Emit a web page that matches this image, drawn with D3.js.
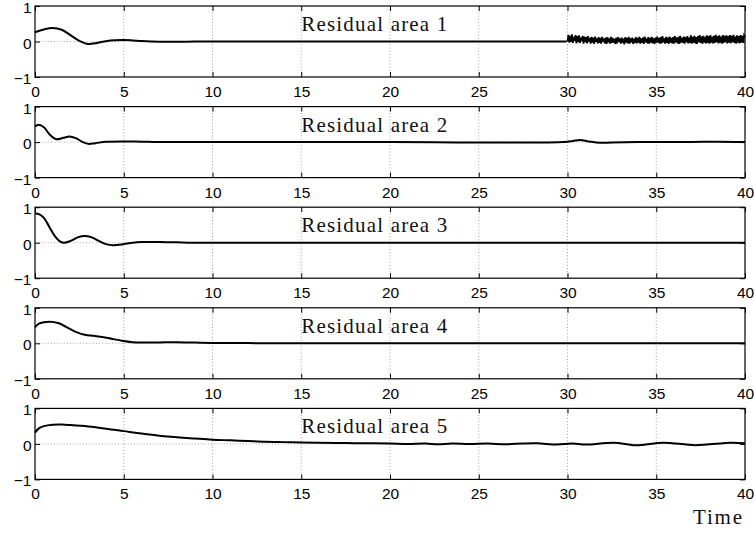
<!DOCTYPE html>
<html>
<head>
<meta charset="utf-8">
<script src="https://cdn.jsdelivr.net/npm/d3@7"></script>
<style>
  body { margin: 0; background: #fff; }
  svg { display: block; }
</style>
</head>
<body>
<script>
// chart data
const xTicks = [0, 5, 10, 15, 20, 25, 30, 35, 40];
const yTicks = [-1, 0, 1];
const panelTitles = ['Residual area 1', 'Residual area 2', 'Residual area 3', 'Residual area 4', 'Residual area 5'];
const xLabel = 'Time';

// [time, residual]
const res1 = [[0, 0.26], [0.5, 0.34], [1.0, 0.38], [1.5, 0.33], [2.0, 0.18], [2.5, 0.02], [3.0, -0.07],
  [3.5, -0.04], [4.0, 0.01], [4.5, 0.035], [5.0, 0.04], [5.5, 0.03], [6, 0.015], [7, -0.005], [8, -0.01],
  [9, 0], [10, 0], [15, 0], [20, 0], [25, 0], [29.95, 0]];
// area 1 after t = 30: dense oscillation, one sample every 0.05
const res1NoiseStart = 30;
const res1NoiseStep = 0.05;
const res1Noise = [0.00,
  0.19, -0.03, 0.16, -0.01, 0.20, -0.04, 0.13, 0.02, 0.18, -0.05,
  0.15, -0.02, 0.17, -0.04, 0.11, 0.01, 0.16, -0.06, 0.14, -0.02,
  0.12, -0.05, 0.15, 0.00, 0.10, -0.06, 0.13, -0.03, 0.11, -0.07,
  0.14, -0.01, 0.09, -0.05, 0.12, -0.04, 0.10, -0.06, 0.13, 0.00,
  0.08, -0.05, 0.11, -0.07, 0.12, -0.02, 0.09, -0.06, 0.13, -0.04,
  0.10, -0.03, 0.07, -0.07, 0.11, -0.05, 0.12, -0.01, 0.09, -0.06,
  0.11, -0.04, 0.08, -0.08, 0.12, -0.03, 0.10, -0.05, 0.13, -0.06,
  0.09, -0.02, 0.11, -0.07, 0.07, -0.04, 0.12, -0.05, 0.10, -0.03,
  0.13, -0.06, 0.09, -0.04, 0.11, -0.07, 0.14, -0.02, 0.08, -0.05,
  0.12, -0.06, 0.10, -0.03, 0.13, -0.05, 0.09, -0.07, 0.11, -0.04,
  0.14, -0.03, 0.10, -0.06, 0.12, -0.05, 0.15, -0.02, 0.09, -0.06,
  0.13, -0.04, 0.11, -0.07, 0.14, -0.03, 0.10, -0.05, 0.12, -0.06,
  0.15, -0.02, 0.11, -0.05, 0.13, -0.07, 0.16, -0.03, 0.10, -0.04,
  0.14, -0.06, 0.12, -0.02, 0.15, -0.05, 0.11, -0.04, 0.17, -0.06,
  0.13, -0.03, 0.16, -0.05, 0.12, -0.07, 0.15, -0.02, 0.18, -0.04,
  0.14, -0.06, 0.16, -0.03, 0.13, -0.05, 0.17, -0.04, 0.15, -0.06,
  0.18, -0.03, 0.14, -0.05, 0.16, -0.04, 0.19, -0.02, 0.15, -0.05,
  0.17, -0.03, 0.14, -0.06, 0.18, -0.04, 0.16, -0.02, 0.17, -0.05,
  0.15, -0.03, 0.18, -0.05, 0.16, -0.02, 0.19, -0.04, 0.14, -0.06,
  0.17, -0.03, 0.15, -0.05, 0.18, -0.02, 0.16, -0.04, 0.17, 0.12];
const res2 = [[0, 0.44], [0.2, 0.49], [0.5, 0.42], [0.85, 0.2], [1.2, 0.08], [1.6, 0.12], [1.95, 0.16],
  [2.3, 0.11], [2.7, 0.0], [3.0, -0.05], [3.4, -0.03], [4, 0.01], [5, 0.02], [6, 0.01], [7, 0], [10, 0],
  [20, 0], [29.8, 0], [30.3, 0.03], [30.7, 0.06], [31.2, 0.02], [31.8, -0.02], [32.5, -0.01], [34, 0],
  [37, 0.005], [38.5, 0.01], [40, 0]];
const res3 = [[0, 0.82], [0.25, 0.8], [0.5, 0.7], [0.8, 0.45], [1.1, 0.2], [1.4, 0.04], [1.65, 0.0],
  [2.0, 0.05], [2.4, 0.15], [2.8, 0.19], [3.2, 0.15], [3.6, 0.05], [4.0, -0.04], [4.4, -0.07], [4.9, -0.05],
  [5.5, 0.0], [6, 0.02], [7, 0.02], [8, 0.01], [9, 0], [20, 0], [30, 0], [40, 0]];
const res4 = [[0, 0.45], [0.25, 0.56], [0.85, 0.61], [1.3, 0.57], [1.8, 0.45], [2.3, 0.32], [2.8, 0.24],
  [3.3, 0.21], [3.8, 0.18], [4.3, 0.13], [4.9, 0.07], [5.5, 0.03], [6, 0.02], [7, 0.025], [8, 0.03],
  [9, 0.02], [10, 0.01], [12, 0.005], [15, 0], [25, 0], [40, 0]];
const res5 = [[0, 0.32], [0.2, 0.43], [0.5, 0.5], [1.0, 0.54], [1.5, 0.545], [2, 0.53], [3, 0.49],
  [4, 0.43], [5, 0.36], [6, 0.29], [7, 0.23], [8, 0.19], [9, 0.15], [10, 0.12], [11, 0.1], [12, 0.08],
  [13, 0.06], [14, 0.05], [15, 0.04], [16, 0.03], [17, 0.025], [18, 0.02], [19, 0.015], [20, 0.01],
  [21, 0.0], [22, 0.01], [22.7, -0.01], [23.5, 0.01], [24.5, -0.005], [25.5, 0.01], [26.5, -0.01],
  [27.5, 0.01], [28.3, 0.015], [29.4, -0.015], [30.3, 0.01], [31.0, -0.02], [32.6, 0.035], [33.9, -0.035],
  [35.4, 0.035], [37.2, -0.035], [39.2, 0.035], [40, 0.02]];
const residuals = [res1, res2, res3, res4, res5];

// layout
const width = 754;
const height = 538;
const left = 35;
const right = 745;
const firstTop = 6;
const panelStep = 100.6;
const panelHeight = 71;

const svg = d3.select('body').append('svg')
  .attr('width', width)
  .attr('height', height);

const xscale = d3.scaleLinear().domain([0, 40]).range([left, right]);

residuals.forEach((res, i) => {
  const top = firstTop + (i * panelStep);
  const yscale = d3.scaleLinear().domain([-1, 1]).range([top + panelHeight, top]);
  const g = svg.append('g').attr('class', `panel panel${i + 1}`);

  // dotted grid
  g.selectAll('.vgrid').data(xTicks.slice(1, -1)).enter().append('line')
    .attr('class', 'vgrid')
    .attr('x1', d => xscale(d)).attr('x2', d => xscale(d))
    .attr('y1', top).attr('y2', top + panelHeight)
    .attr('stroke', '#8a8a8a').attr('stroke-width', 0.8)
    .attr('stroke-dasharray', '1,2.2');
  g.selectAll('.hgrid').data(yTicks.slice(1, -1)).enter().append('line')
    .attr('class', 'hgrid')
    .attr('x1', left).attr('x2', right)
    .attr('y1', d => yscale(d)).attr('y2', d => yscale(d))
    .attr('stroke', '#8a8a8a').attr('stroke-width', 0.8)
    .attr('stroke-dasharray', '1,2.2');

  // title inside the axes
  g.append('text')
    .attr('x', xscale(15))
    .attr('y', top + 25)
    .attr('font-family', '"Liberation Serif", "Times New Roman", serif')
    .attr('font-size', 21)
    .attr('textLength', 146)
    .attr('lengthAdjust', 'spacing')
    .attr('fill', '#111')
    .text(panelTitles[i]);

  // residual curve
  const line = d3.line()
    .x(d => xscale(d[0]))
    .y(d => yscale(d[1]))
    .curve(d3.curveCatmullRom);
  g.append('path')
    .datum(res)
    .attr('fill', 'none')
    .attr('stroke', '#000')
    .attr('stroke-width', 2)
    .attr('stroke-linejoin', 'round')
    .attr('d', line);

  if (i === 0) {
    const noiseLine = d3.line()
      .x((d, j) => xscale(res1NoiseStart + (j * res1NoiseStep)))
      .y(d => yscale(d));
    g.append('path')
      .datum(res1Noise)
      .attr('fill', 'none')
      .attr('stroke', '#000')
      .attr('stroke-width', 1.8)
      .attr('d', noiseLine);
  }

  // axes with inward ticks
  const font = '"Liberation Sans", Arial, Helvetica, sans-serif';
  const bottomAxis = g.append('g')
    .attr('transform', `translate(0,${top + panelHeight})`)
    .call(d3.axisBottom(xscale).tickValues(xTicks).tickSizeInner(-5).tickSizeOuter(0).tickPadding(9));
  const topAxis = g.append('g')
    .attr('transform', `translate(0,${top})`)
    .call(d3.axisTop(xscale).tickValues(xTicks).tickSizeInner(-5).tickSizeOuter(0).tickFormat(''));
  const leftAxis = g.append('g')
    .attr('transform', `translate(${left},0)`)
    .call(d3.axisLeft(yscale).tickValues(yTicks).tickSizeInner(-5).tickSizeOuter(0).tickPadding(3.5)
      .tickFormat(d3.format('d')));
  const rightAxis = g.append('g')
    .attr('transform', `translate(${right},0)`)
    .call(d3.axisRight(yscale).tickValues(yTicks).tickSizeInner(-5).tickSizeOuter(0).tickFormat(''));
  [bottomAxis, topAxis, leftAxis, rightAxis].forEach((ax) => {
    ax.select('.domain').remove();
    ax.selectAll('line').attr('stroke', '#000').attr('stroke-width', 1);
    ax.selectAll('text').attr('font-family', font).attr('font-size', 15.5).attr('fill', '#000');
  });
  leftAxis.selectAll('text').attr('dy', '0.42em');

  // frame
  g.append('rect')
    .attr('x', left).attr('y', top)
    .attr('width', right - left).attr('height', panelHeight)
    .attr('fill', 'none')
    .attr('stroke', '#000')
    .attr('stroke-width', 1.2);
});

svg.append('text')
  .attr('x', 742)
  .attr('y', 524)
  .attr('text-anchor', 'end')
  .attr('font-family', '"Liberation Serif", "Times New Roman", serif')
  .attr('font-size', 21)
  .attr('textLength', 49)
  .attr('lengthAdjust', 'spacing')
  .attr('fill', '#111')
  .text(xLabel);
</script>
</body>
</html>
